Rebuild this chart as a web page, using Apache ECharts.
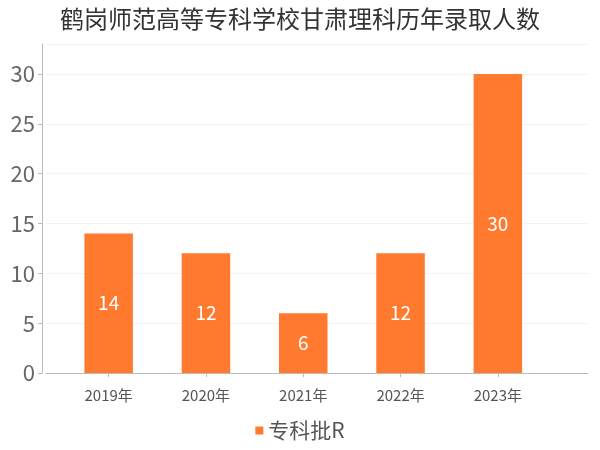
<!DOCTYPE html>
<html><head><meta charset="utf-8">
<script src="https://cdn.jsdelivr.net/npm/echarts@6/dist/echarts.min.js"></script>
<style>html,body{margin:0;padding:0;background:#fff}#c{width:600px;height:450px}</style>
</head><body><div id="c"></div>
<script>
var titleText = '鹤岗师范高等专科学校甘肃理科历年录取人数';
var categories = ['2019年', '2020年', '2021年', '2022年', '2023年'];
var seriesName = '专科批R';
var values = [14, 12, 6, 12, 30];
var yTicks = [0, 5, 10, 15, 20, 25, 30];

var font = '"Noto Sans CJK SC", "Noto Sans", sans-serif';
var chart = echarts.init(document.getElementById('c'));
chart.setOption({
  backgroundColor: '#fff',
  textStyle: {fontFamily: font},
  title: {text: titleText, left: 'center', top: 2,
    textStyle: {fontSize: 24, fontWeight: 'normal', color: '#333', fontFamily: font}},
  legend: {data: [seriesName], bottom: 4, left: 'center', icon: 'rect', itemWidth: 8, itemHeight: 8, itemGap: 4,
    textStyle: {fontSize: 21, color: '#555', fontFamily: font}},
  grid: [
    {left: 46, right: 12, top: 44, bottom: 77},
    {left: 60, right: 53.5, top: 44, bottom: 77}
  ],
  xAxis: [
    {type: 'category', gridIndex: 0, data: categories, offset: 5,
      axisLine: {show: true, lineStyle: {color: '#bbb'}}, axisTick: {show: false}, axisLabel: {show: false}},
    {type: 'category', gridIndex: 1, data: categories, offset: 5,
      axisLine: {show: false}, axisTick: {show: true, alignWithLabel: true, length: 4, lineStyle: {color: '#bbb'}},
      axisLabel: {fontSize: 15, color: '#555', margin: 10, fontFamily: font}}
  ],
  yAxis: [
    {type: 'value', gridIndex: 0, min: 0, max: 33, interval: 5, offset: 4,
      axisLine: {show: true, lineStyle: {color: '#bbb'}}, axisTick: {show: true, length: 4, lineStyle: {color: '#bbb'}},
      axisLabel: {fontSize: 22, color: '#666', margin: 7, showMaxLabel: false, fontFamily: font,
        formatter: function (v) { return yTicks.indexOf(v) >= 0 ? String(v) : ''; }},
      splitLine: {show: true, lineStyle: {color: '#f3f3f3'}}},
    {type: 'value', gridIndex: 1, min: 0, max: 33, interval: 5, show: false, splitLine: {show: false}}
  ],
  series: [{
    name: seriesName, type: 'bar', xAxisIndex: 1, yAxisIndex: 1, data: values, barWidth: 48.5,
    itemStyle: {color: '#ff7a2f'},
    label: {show: true, position: 'inside', color: '#fff', fontSize: 19, fontFamily: font}
  }]
});
</script></body></html>
